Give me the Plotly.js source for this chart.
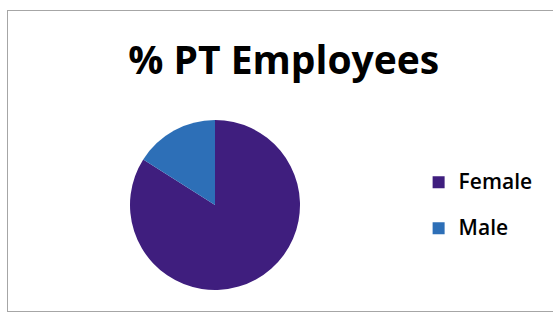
<!DOCTYPE html>
<html>
<head>
<meta charset="utf-8">
<script src="https://cdn.plot.ly/plotly-3.0.1.min.js"></script>
<style>
  html, body { margin: 0; padding: 0; background: #ffffff; }
  #chart { width: 553px; height: 312px; position: relative; }
  #frame { position: absolute; left: 7px; top: 10px; width: 550px; height: 300px;
           border: 1px solid #a6a6a6; pointer-events: none; }
</style>
</head>
<body>
<div id="chart"></div>
<div id="frame"></div>
<script>
const labels = ["Female", "Male"];
const values = [84, 16];
const colors = ["#3f1e7e", "#2d6fb7"];

// legend entries: larger text on first line, a blank second line for spacing
const legendLabels = labels.map(l => "<span style='font-size:21px;font-weight:600'>" + l + "</span><br> ");

const trace = {
  type: "pie",
  labels: legendLabels,
  values: values,
  marker: { colors: colors, line: { width: 0 } },
  textinfo: "none",
  hoverinfo: "percent",
  sort: false,
  direction: "clockwise",
  rotation: 0,
  domain: { x: [130 / 553, 300 / 553], y: [1 - 290 / 312, 1 - 120 / 312] }
};

const layout = {
  width: 553,
  height: 312,
  margin: { l: 0, r: 0, t: 0, b: 0 },
  paper_bgcolor: "#ffffff",
  title: {
    text: "<b>% PT Employees</b>",
    font: { family: "'Open Sans', sans-serif", size: 39, color: "#000000" },
    x: 0.513, xanchor: "center",
    y: 1 - 60 / 312, yanchor: "middle"
  },
  showlegend: true,
  legend: {
    x: 0.757, xanchor: "left",
    y: 1 - 165 / 312, yanchor: "top",
    valign: "top",
    font: { family: "'Open Sans', sans-serif", size: 16.5, color: "#000000" },
    bgcolor: "rgba(0,0,0,0)"
  }
};

Plotly.newPlot("chart", [trace], layout, { displayModeBar: false, staticPlot: true });
</script>
</body>
</html>
